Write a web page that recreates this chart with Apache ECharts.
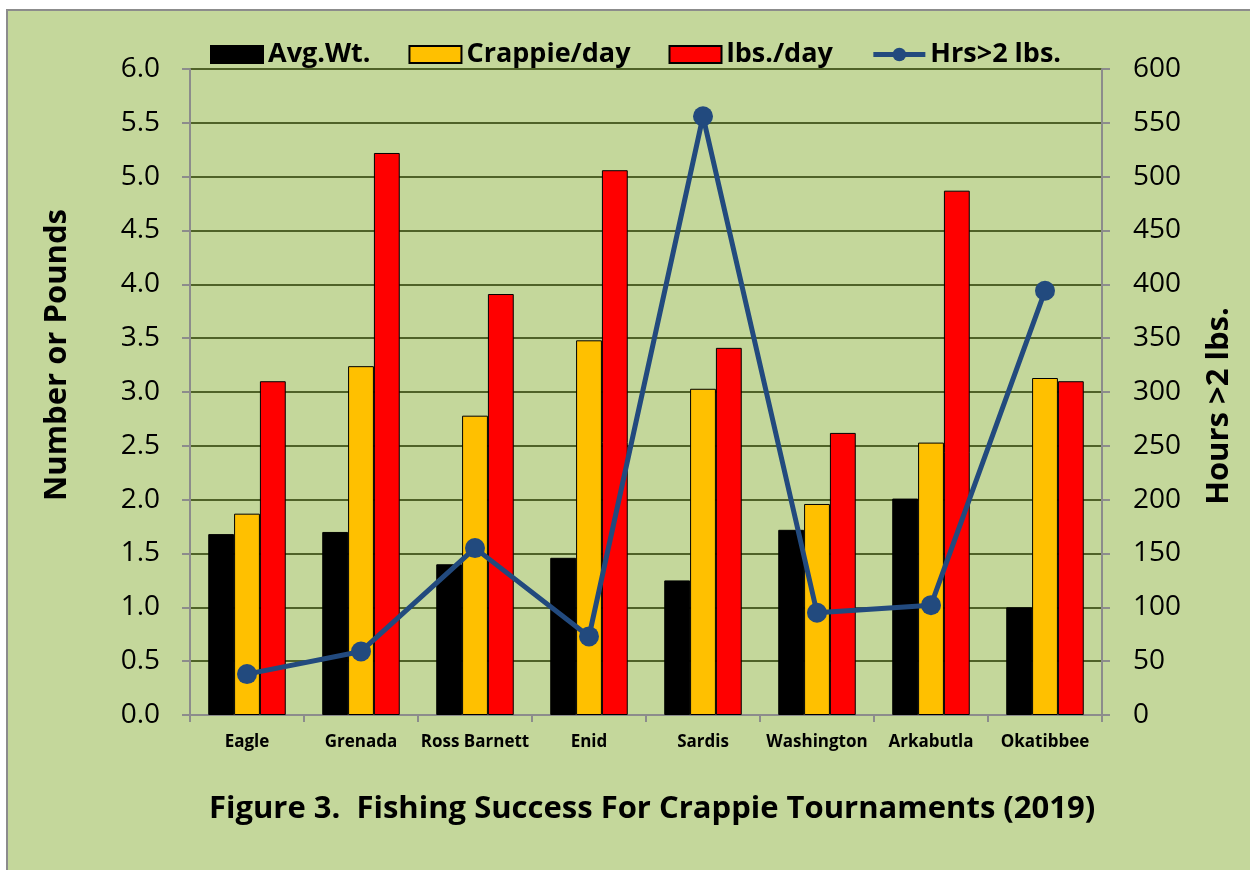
<!DOCTYPE html>
<html>
<head>
<meta charset="utf-8">
<script src="https://cdn.jsdelivr.net/npm/echarts@6/dist/echarts.min.js"></script>
<style>
  html, body { margin: 0; padding: 0; background: #fff; overflow: hidden; }
  #bg {
    position: absolute; left: 6px; top: 9px; width: 1260px; height: 880px;
    background: #c4d79b; border-left: 2px solid #8c8c8c; border-top: 2px solid #8c8c8c;
  }
  #chart { position: absolute; left: 0; top: 0; width: 1250px; height: 870px; }
</style>
</head>
<body>
<div id="bg"></div>
<div id="chart"></div>
<script>
const lakes = ["Eagle", "Grenada", "Ross Barnett", "Enid", "Sardis", "Washington", "Arkabutla", "Okatibbee"];
const avgWt = [1.68, 1.70, 1.40, 1.46, 1.25, 1.72, 2.01, 1.00];
const crappiePerDay = [1.87, 3.24, 2.78, 3.48, 3.03, 1.96, 2.53, 3.13];
const lbsPerDay = [3.10, 5.22, 3.91, 5.06, 3.41, 2.62, 4.87, 3.10];
const hrsOver2 = [38, 59, 155, 73, 556, 95, 102, 394];

const font = "'Open Sans', 'Noto Sans', sans-serif";
const gridColor = "#4f6228";
const axisGray = "#8c8c8c";
const lineBlue = "#224a7e";

const barSeries = (name, data, color) => ({
  name: name,
  type: "bar",
  data: data,
  barGap: "0%",
  barCategoryGap: "32%",
  itemStyle: { color: color, borderColor: "#000", borderWidth: 1 },
});

// rotated axis titles (placed by hand, they sit off the plot centre in the original)
const axisTitle = (text, x, y) => ({
  type: "text",
  x: x,
  y: y,
  rotation: Math.PI / 2,
  style: {
    text: text,
    font: "bold 31px " + font,
    fill: "#000",
    textAlign: "center",
    textVerticalAlign: "middle",
  },
});

const option = {
  backgroundColor: "transparent",
  animation: false,
  textStyle: { fontFamily: font, color: "#000" },
  title: {
    text: "Figure 3.  Fishing Success For Crappie Tournaments (2019)",
    left: 204,
    top: 789,
    textStyle: { fontFamily: font, fontSize: 31, fontWeight: "bold", color: "#000" },
  },
  graphic: [
    axisTitle("Number or Pounds", 57, 355),
    axisTitle("Hours >2 lbs.", 1219, 406),
  ],
  legend: {
    left: 205,
    top: 36,
    itemWidth: 52,
    itemHeight: 17,
    itemGap: 38,
    textStyle: { fontFamily: font, fontSize: 27, fontWeight: "bold", color: "#000" },
    data: [
      { name: "Avg.Wt.", icon: "rect" },
      { name: "Crappie/day", icon: "rect" },
      { name: "lbs./day", icon: "rect" },
      { name: "Hrs>2 lbs.", lineStyle: { width: 5 } },
    ],
  },
  grid: { left: 190, right: 148, top: 69, bottom: 155 },
  xAxis: {
    type: "category",
    data: lakes,
    axisLine: { lineStyle: { color: axisGray, width: 2 } },
    axisTick: { show: true, length: 7, lineStyle: { color: axisGray, width: 2 } },
    axisLabel: { fontFamily: font, fontSize: 17, fontWeight: "bold", color: "#000", margin: 19, interval: 0 },
  },
  yAxis: [
    {
      type: "value",
      min: 0,
      max: 6,
      interval: 0.5,
      axisLine: { show: true, lineStyle: { color: axisGray, width: 2 } },
      axisTick: { show: true, length: 8, lineStyle: { color: axisGray, width: 2 } },
      axisLabel: {
        fontFamily: font, fontSize: 28, color: "#000", margin: 30,
        formatter: (v) => v.toFixed(1),
      },
      splitLine: { show: true, lineStyle: { color: gridColor, width: 2 } },
    },
    {
      type: "value",
      min: 0,
      max: 600,
      interval: 50,
      axisLine: { show: true, lineStyle: { color: axisGray, width: 2 } },
      axisTick: { show: true, length: 8, lineStyle: { color: axisGray, width: 2 } },
      axisLabel: { fontFamily: font, fontSize: 28, color: "#000", margin: 31 },
      splitLine: { show: false },
    },
  ],
  series: [
    barSeries("Avg.Wt.", avgWt, "#000000"),
    barSeries("Crappie/day", crappiePerDay, "#ffc000"),
    barSeries("lbs./day", lbsPerDay, "#ff0000"),
    {
      name: "Hrs>2 lbs.",
      type: "line",
      yAxisIndex: 1,
      data: hrsOver2,
      symbol: "circle",
      symbolSize: 20,
      z: 5,
      lineStyle: { color: lineBlue, width: 5 },
      itemStyle: { color: lineBlue },
    },
  ],
};

const myChart = echarts.init(document.getElementById("chart"));
myChart.setOption(option);
</script>
</body>
</html>
